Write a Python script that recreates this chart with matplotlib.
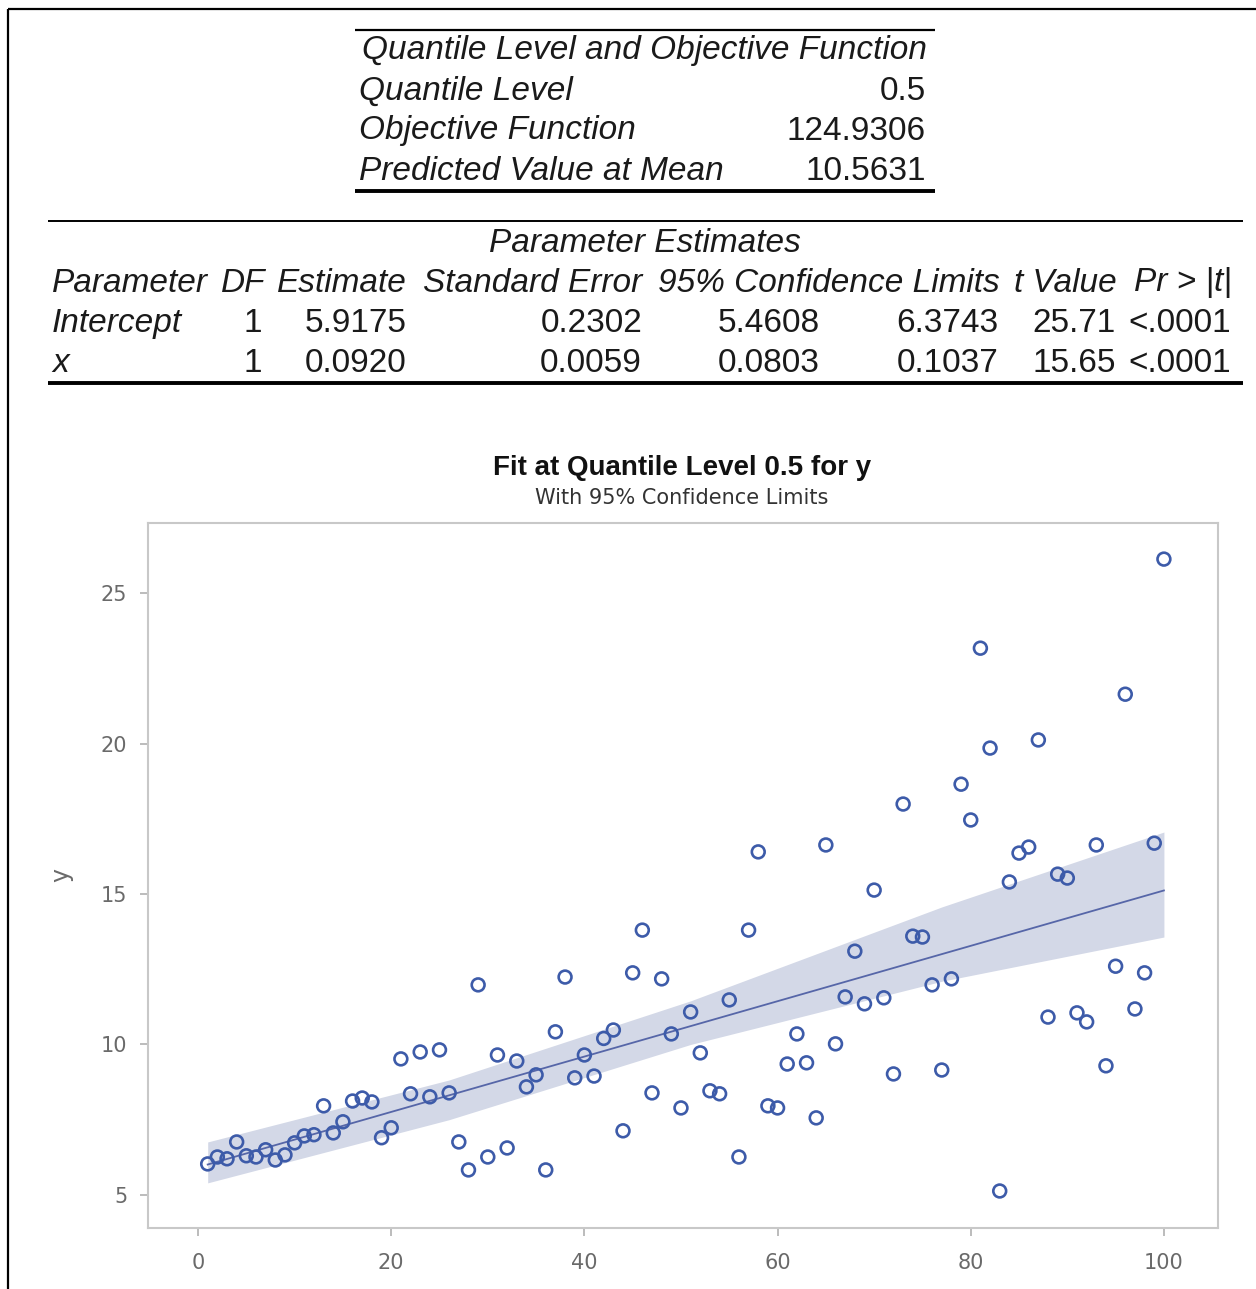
import matplotlib
matplotlib.use("Agg")
import matplotlib.pyplot as plt
from matplotlib.lines import Line2D

# ---------------- data ----------------
x_vals = [1, 2, 3, 4, 5, 6, 7, 8, 9, 10, 11, 12, 13, 14, 15, 16, 17, 18, 19, 20,
          21, 22, 23, 24, 25, 26, 27, 28, 29, 30, 31, 32, 33, 34, 35, 36, 37, 38, 39, 40,
          41, 42, 43, 44, 45, 46, 47, 48, 49, 50, 51, 52, 53, 54, 55, 56, 57, 58, 59, 60,
          61, 62, 63, 64, 65, 66, 67, 68, 69, 70, 71, 72, 73, 74, 75, 76, 77, 78, 79, 80,
          81, 82, 83, 84, 85, 86, 87, 88, 89, 90, 91, 92, 93, 94, 95, 96, 97, 98, 99, 100]
y_vals = [6.03, 6.26, 6.20, 6.76, 6.30, 6.26, 6.50, 6.16, 6.33, 6.73,
          6.96, 7.00, 7.96, 7.06, 7.43, 8.12, 8.22, 8.09, 6.90, 7.23,
          9.52, 8.36, 9.75, 8.26, 9.82, 8.39, 6.76, 5.83, 11.98, 6.26,
          9.65, 6.56, 9.45, 8.59, 8.99, 5.83, 10.42, 12.24, 8.89, 9.65,
          8.95, 10.20, 10.48, 7.13, 12.38, 13.80, 8.39, 12.18, 10.35, 7.89,
          11.08, 9.72, 8.46, 8.36, 11.48, 6.26, 13.80, 16.40, 7.96, 7.89,
          9.35, 10.35, 9.39, 7.56, 16.63, 10.02, 11.58, 13.10, 11.35, 15.13,
          11.55, 9.02, 17.99, 13.60, 13.57, 11.98, 9.15, 12.18, 18.65, 17.46,
          23.17, 19.85, 5.13, 15.40, 16.36, 16.56, 20.12, 10.91, 15.66, 15.53,
          11.05, 10.75, 16.63, 9.29, 12.60, 21.64, 11.18, 12.38, 16.69, 26.13]

intercept = 5.9175
slope = 0.0920

band_x = [1, 26, 51, 77, 100]
band_lower = [5.40, 7.50, 10.00, 12.10, 13.57]
band_upper = [6.76, 8.82, 11.45, 14.57, 17.06]

x_ticks = [0, 20, 40, 60, 80, 100]
y_ticks = [5, 10, 15, 20, 25]

qtab_title = "Quantile Level and Objective Function"
qtab_labels = ["Quantile Level", "Objective Function", "Predicted Value at Mean"]
qtab_values = ["0.5", "124.9306", "10.5631"]

ptab_title = "Parameter Estimates"
ptab_headers = ["Parameter", "DF", "Estimate", "Standard Error",
                "95% Confidence Limits", "t Value", "Pr > |t|"]
ptab_rows = [["Intercept", "1", "5.9175", "0.2302", "5.4608", "6.3743", "25.71", "<.0001"],
             ["x", "1", "0.0920", "0.0059", "0.0803", "0.1037", "15.65", "<.0001"]]

# ---------------- figure ----------------
W, H = 1256, 1289
fig = plt.figure(figsize=(W / 100, H / 100), dpi=100)
plt.rcParams['font.family'] = ['Liberation Sans', 'DejaVu Sans']


def fx(px):
    return px / W


def fy(py):
    return 1 - py / H


def line(xs, ys, lw):
    fig.add_artist(Line2D([fx(v) for v in xs], [fy(v) for v in ys], color='black', lw=lw,
                          transform=fig.transFigure, solid_capstyle='butt'))


# outer frame (top and left visible)
line([8, W], [9, 9], 1.6)
line([8, 8], [9, H], 1.6)

tfs = 24
tcol = '#1a1a1a'
# quantile table
line([355, 935], [30, 30], 1.6)
fig.text(fx(645), fy(51), qtab_title, ha='center', va='center', style='italic',
         fontsize=tfs, color=tcol)
row_y = [91, 131, 171]
for lab, val, yy in zip(qtab_labels, qtab_values, row_y):
    fig.text(fx(359), fy(yy), lab, ha='left', va='center', style='italic', fontsize=tfs, color=tcol)
    fig.text(fx(926), fy(yy), val, ha='right', va='center', fontsize=tfs, color=tcol)
line([355, 935], [191, 191], 2.8)

# parameter estimates table
line([48, 1243], [221, 221], 1.4)
fig.text(fx(645), fy(243), ptab_title, ha='center', va='center', style='italic',
         fontsize=tfs, color=tcol)
hdr_pos = [(52, 'left'), (265, 'right'), (407, 'right'), (642, 'right'),
           (1000, 'right'), (1117, 'right'), (1232, 'right')]
for h, (px, ha) in zip(ptab_headers, hdr_pos):
    fig.text(fx(px), fy(283), h, ha=ha, va='center', style='italic', fontsize=tfs, color=tcol)
col_pos = [(52, 'left'), (262, 'right'), (407, 'right'), (642, 'right'),
           (820, 'right'), (998, 'right'), (1116, 'right'), (1231, 'right')]
for yy, row in zip([323, 363], ptab_rows):
    for i, (val, (px, ha)) in enumerate(zip(row, col_pos)):
        fig.text(fx(px), fy(yy), val, ha=ha, va='center', fontsize=tfs, color=tcol,
                 style='italic' if i == 0 else 'normal')
line([48, 1243], [383, 383], 2.8)

# chart titles
fig.text(fx(682), fy(468), "Fit at Quantile Level 0.5 for y", ha='center', va='center',
         fontsize=20, fontweight='bold', color='#111111')
fig.text(fx(682), fy(498), "With 95% Confidence Limits", ha='center', va='center',
         fontsize=15, color='#333333', family='DejaVu Sans')

# axes
ax = fig.add_axes([fx(148), fy(1228), fx(1218) - fx(148), fy(523) - fy(1228)])
ax.set_xlim(-5.18, 105.6)
ax.set_ylim(3.90, 27.33)

blue = '#3d5ba9'
ax.fill_between(band_x, band_lower, band_upper, color='#d3d8e7', lw=0, zorder=1)
fit_x = [band_x[0], band_x[-1]]
fit_y = [intercept + slope * v for v in fit_x]
ax.plot(fit_x, fit_y, color='#5666a8', lw=1.3, zorder=2)
ax.scatter(x_vals, y_vals, s=85, facecolors='none', edgecolors=blue, linewidths=1.9, zorder=3)

ax.set_xticks(x_ticks)
ax.set_yticks(y_ticks)
for s in ax.spines.values():
    s.set_color('#c8c8c8')
    s.set_linewidth(1.5)
ax.tick_params(colors='#b0b0b0', labelcolor='#6a6a6a', length=6, width=1.2,
               labelsize=15, labelfontfamily='DejaVu Sans')
ax.tick_params(axis='x', pad=12)
ax.tick_params(axis='y', pad=9)
ax.set_ylabel('y', fontsize=17, color='#6a6a6a', labelpad=20, family='DejaVu Sans')

fig.savefig('out.png', dpi=100)
